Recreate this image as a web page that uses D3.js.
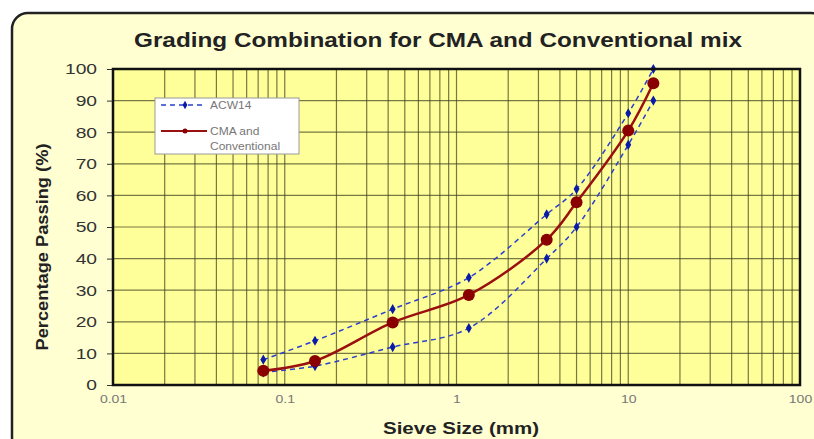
<html>
<head>
<script src="https://d3js.org/d3.v7.min.js"></script>
</head>
<body style="margin:0;background:#fff">
<svg id="chart" width="814" height="439"></svg>
<script>
// sieve sizes (mm) and percentage passing
const sieves = [0.075, 0.15, 0.425, 1.18, 3.35, 5, 10, 14];
const acwUpper = [8, 14, 24, 34, 54, 62, 86, 100];
const acwLower = [4, 6, 12, 18, 40, 50, 76, 90];
const cmaMix = [4.5, 7.6, 19.8, 28.5, 46, 57.8, 80.5, 95.5];
const yTicks = [0, 10, 20, 30, 40, 50, 60, 70, 80, 90, 100];
const xTicks = [0.01, 0.1, 1, 10, 100];

const svg = d3.select("svg#chart");
const margin = {top: 69, right: 14, bottom: 54, left: 113};
const width = +svg.attr("width");
const height = +svg.attr("height");
const font = "Arial, 'Liberation Sans'";

// the original text is drawn wider than normal, so stretch it
function stretch(sel, k) {
    sel.each(function() {
        const w = this.getComputedTextLength();
        d3.select(this).attr("textLength", w * k).attr("lengthAdjust", "spacingAndGlyphs");
    });
}

// outer frame
svg.append("rect")
    .attr("x", 12).attr("y", 13)
    .attr("width", 815).attr("height", 440)
    .attr("rx", 16)
    .style("fill", "#FFFFD2")
    .style("stroke", "#222")
    .style("stroke-width", 2.5);

const x = d3.scaleLog().domain([0.01, 100]).range([margin.left, width - margin.right]);
const y = d3.scaleLinear().domain([0, 100]).range([height - margin.bottom, margin.top]);

const plot = svg.append("g");
plot.append("rect")
    .attr("x", x(0.01)).attr("y", y(100))
    .attr("width", x(100) - x(0.01)).attr("height", y(0) - y(100))
    .style("fill", "#FFFF99");

// vertical grid at every minor log tick
const minor = [];
[0.01, 0.1, 1, 10].forEach(d => { for (let k = 1; k <= 9; k++) minor.push(d * k); });
plot.selectAll("line.vgrid").data(minor.filter(d => d > 0.01))
    .join("line")
    .attr("class", "vgrid")
    .attr("x1", d => x(d)).attr("x2", d => x(d))
    .attr("y1", y(0)).attr("y2", y(100))
    .style("stroke", "#3f3f20").style("stroke-opacity", 0.7).style("stroke-width", 1.2);
plot.selectAll("line.hgrid").data(yTicks.filter(d => d > 0))
    .join("line")
    .attr("class", "hgrid")
    .attr("x1", x(0.01)).attr("x2", x(100))
    .attr("y1", d => y(d)).attr("y2", d => y(d))
    .style("stroke", "#3f3f20").style("stroke-opacity", 0.7).style("stroke-width", 1.2);

// axes
const yAxis = svg.append("g")
    .attr("transform", "translate(" + x(0.01) + ",0)")
    .call(d3.axisLeft(y).tickValues(yTicks).tickSize(6).tickPadding(10));
yAxis.selectAll("text").style("font-family", font).style("font-size", "15px").style("fill", "#333")
    .call(stretch, 1.28);
yAxis.selectAll("line").style("stroke", "#333");
yAxis.select(".domain").remove();

const xAxis = svg.append("g")
    .attr("transform", "translate(0," + y(0) + ")")
    .call(d3.axisBottom(x).tickValues(xTicks).tickFormat(d3.format("~g")).tickSize(0).tickPadding(11));
xAxis.selectAll("text").style("font-family", font).style("font-size", "10px").style("fill", "#777")
    .call(stretch, 1.4);
xAxis.select(".domain").remove();

// plot border
svg.append("rect")
    .attr("x", x(0.01)).attr("y", y(100))
    .attr("width", x(100) - x(0.01)).attr("height", y(0) - y(100))
    .style("fill", "none").style("stroke", "#111").style("stroke-width", 2.5);

// series
const curve = d3.line()
    .x(d => x(d[0])).y(d => y(d[1]))
    .curve(d3.curveCatmullRom.alpha(0.5));

[acwUpper, acwLower].forEach(vals => {
    const pts = sieves.map((s, i) => [s, vals[i]]);
    plot.append("path").datum(pts)
        .attr("d", curve)
        .style("fill", "none").style("stroke", "#2a3fcc")
        .style("stroke-width", 1.5).style("stroke-dasharray", "5,4");
    plot.selectAll(null).data(pts).join("path")
        .attr("transform", d => "translate(" + x(d[0]) + "," + y(d[1]) + ")")
        .attr("d", d3.symbol(d3.symbolDiamond, 30))
        .style("fill", "#0a1aa8");
});

const cmaPts = sieves.map((s, i) => [s, cmaMix[i]]);
plot.append("path").datum(cmaPts)
    .attr("d", curve)
    .style("fill", "none").style("stroke", "#9a0f0f").style("stroke-width", 2.5);
plot.selectAll("circle.cma").data(cmaPts).join("circle")
    .attr("class", "cma")
    .attr("cx", d => x(d[0])).attr("cy", d => y(d[1]))
    .attr("r", 6)
    .style("fill", "#8a0000");

// legend
const lg = svg.append("g").attr("transform", "translate(155,98)");
lg.append("rect").attr("width", 144).attr("height", 56)
    .style("fill", "#fff").style("stroke", "#999").style("stroke-width", 1);
lg.append("line").attr("x1", 6).attr("x2", 48).attr("y1", 7).attr("y2", 7)
    .style("stroke", "#2a3fcc").style("stroke-width", 1.5).style("stroke-dasharray", "5,4");
lg.append("path").attr("transform", "translate(30,7)")
    .attr("d", d3.symbol(d3.symbolDiamond, 20)).style("fill", "#0a1aa8");
lg.append("line").attr("x1", 6).attr("x2", 52).attr("y1", 33).attr("y2", 33)
    .style("stroke", "#9a0f0f").style("stroke-width", 2);
lg.append("circle").attr("cx", 30).attr("cy", 33).attr("r", 2.5).style("fill", "#8a0000");
const lgText = [["ACW14", 11], ["CMA and", 37], ["Conventional", 52]];
lg.selectAll("text").data(lgText).join("text")
    .attr("x", 55).attr("y", d => d[1])
    .text(d => d[0])
    .style("font-family", font).style("font-size", "10px").style("fill", "#777")
    .call(stretch, 1.2);

// titles
svg.append("text")
    .attr("x", 438).attr("y", 47)
    .attr("text-anchor", "middle")
    .attr("textLength", 608).attr("lengthAdjust", "spacingAndGlyphs")
    .style("font-family", font).style("font-weight", "bold")
    .style("font-size", "21px").style("fill", "#222")
    .text("Grading Combination for CMA and Conventional mix");
svg.append("text")
    .attr("x", 461).attr("y", 434)
    .attr("text-anchor", "middle")
    .attr("textLength", 156).attr("lengthAdjust", "spacingAndGlyphs")
    .style("font-family", font).style("font-weight", "bold")
    .style("font-size", "16px").style("fill", "#222")
    .text("Sieve Size (mm)");
svg.append("text")
    .attr("transform", "translate(48,247) rotate(-90)")
    .attr("text-anchor", "middle")
    .attr("textLength", 207).attr("lengthAdjust", "spacingAndGlyphs")
    .style("font-family", font).style("font-weight", "bold")
    .style("font-size", "16px").style("fill", "#222")
    .text("Percentage Passing (%)");
</script>
</body>
</html>
